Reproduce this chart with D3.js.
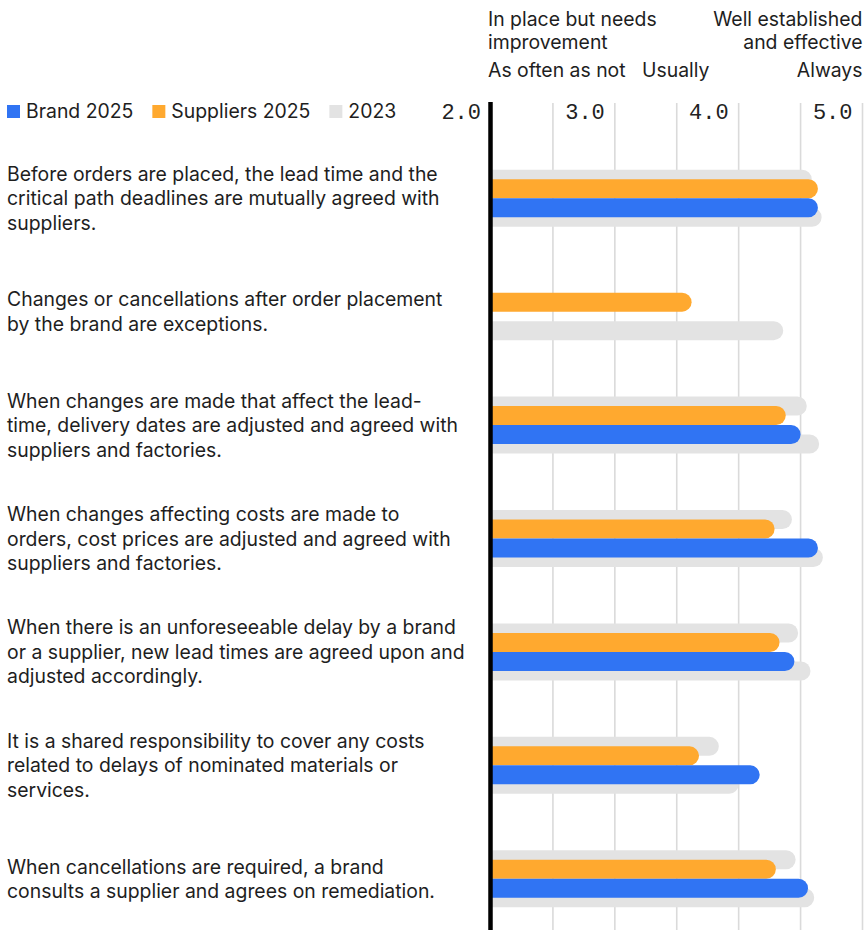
<!DOCTYPE html>
<html>
<head>
<meta charset="utf-8">
<script src="https://cdn.jsdelivr.net/npm/d3@7"></script>
<style>
  html, body { margin: 0; padding: 0; background: #fff; }
  svg { display: block; }
  .lbl { font-family: Inter, "Noto Sans", sans-serif; fill: #1e1e1e; }
  .tick-lbl { font-family: "Liberation Mono", "DejaVu Sans Mono", monospace; fill: #222; }
</style>
</head>
<body>
<svg id="chart" width="864" height="930"></svg>
<script>
// Survey statements (wrapped lines as displayed)
const statements = [
  ["Before orders are placed, the lead time and the", "critical path deadlines are mutually agreed with", "suppliers."],
  ["Changes or cancellations after order placement", "by the brand are exceptions."],
  ["When changes are made that affect the lead-", "time, delivery dates are adjusted and agreed with", "suppliers and factories."],
  ["When changes affecting costs are made to", "orders, cost prices are adjusted and agreed with", "suppliers and factories."],
  ["When there is an unforeseeable delay by a brand", "or a supplier, new lead times are agreed upon and", "adjusted accordingly."],
  ["It is a shared responsibility to cover any costs", "related to delays of nominated materials or", "services."],
  ["When cancellations are required, a brand", "consults a supplier and agrees on remediation."]
];

// Average scores (null = not asked)
const brand2025     = [4.64, null, 4.50, 4.64, 4.45, 4.17, 4.56];
const suppliers2025 = [4.64, 3.62, 4.38, 4.29, 4.33, 3.68, 4.30];
const suppliers2023 = [4.59, null, 4.55, 4.43, 4.48, 3.84, 4.46];
const brand2023     = [4.67, 4.36, 4.65, 4.68, 4.58, 4.00, 4.61];

const tickValues = [2.0, 3.0, 4.0, 5.0];
const gridValues = [2.5, 3.0, 3.5, 4.0, 4.5, 5.0];

const legendItems = [
  { name: "Brand 2025", color: "#3074f3" },
  { name: "Suppliers 2025", color: "#ffa92f" },
  { name: "2023", color: "#e3e3e3" }
];

const colors = { brand: "#3074f3", suppliers: "#ffa92f", past: "#e3e3e3" };

const svg = d3.select("#chart");
const fontSize = 19.4;

const x = d3.scaleLinear().domain([2.0, 5.0]).range([491, 862.5]);
const y = d3.scaleBand().domain(d3.range(statements.length)).range([141.5, 935.5]);
const rowCenter = i => y(i) + y.bandwidth() / 2;
const barH = 19;

// Gridlines
svg.append("g").selectAll("line").data(gridValues).join("line")
  .attr("x1", d => x(d)).attr("x2", d => x(d))
  .attr("y1", 103).attr("y2", 930)
  .attr("stroke", "#dadada").attr("stroke-width", 1.6);

// Tick labels: right-aligned just before each tick position
svg.append("g").selectAll("text").data(tickValues).join("text")
  .attr("class", "tick-lbl")
  .attr("x", d => x(d) - 10)
  .attr("y", 119)
  .attr("text-anchor", "end")
  .attr("font-size", 22)
  .text(d => d.toFixed(1));

// Bar with square start and rounded end
function barPath(v, cy) {
  const x0 = x(2.0), x1 = x(v), r = barH / 2;
  const t = cy - r, b = cy + r;
  return `M${x0},${t}H${x1 - r}A${r},${r} 0 0 1 ${x1},${cy}A${r},${r} 0 0 1 ${x1 - r},${b}H${x0}Z`;
}

const layers = [
  { data: suppliers2023, offset: -19, color: colors.past },
  { data: brand2023, offset: 19, color: colors.past },
  { data: suppliers2025, offset: -9.5, color: colors.suppliers },
  { data: brand2025, offset: 9.5, color: colors.brand }
];

layers.forEach(layer => {
  svg.append("g").selectAll("path")
    .data(layer.data.map((v, i) => ({ v, i })).filter(d => d.v != null))
    .join("path")
    .attr("d", d => barPath(d.v, rowCenter(d.i) + layer.offset))
    .attr("fill", layer.color);
});

// Baseline axis
svg.append("line")
  .attr("x1", x(2.0) - 0.5).attr("x2", x(2.0) - 0.5)
  .attr("y1", 102).attr("y2", 930)
  .attr("stroke", "#000").attr("stroke-width", 4.5);

// Statement labels
const lineH = 24.5;
statements.forEach((lines, i) => {
  const t = svg.append("text").attr("class", "lbl").attr("font-size", fontSize);
  const top = rowCenter(i) - (lines.length - 1) * lineH / 2;
  lines.forEach((ln, j) => {
    t.append("tspan").attr("x", 7).attr("y", top + j * lineH + 7).text(ln);
  });
});

// Legend
let lx = 7;
const legend = svg.append("g");
legendItems.forEach(item => {
  legend.append("rect").attr("x", lx).attr("y", 105).attr("width", 13).attr("height", 13).attr("fill", item.color);
  const tx = legend.append("text").attr("class", "lbl").attr("x", lx + 19).attr("y", 118)
    .attr("font-size", fontSize).text(item.name);
  lx += 19 + tx.node().getComputedTextLength() + 19;
});

// Scale descriptors
const header = svg.append("g").attr("class", "lbl").attr("font-size", fontSize);
header.append("text").attr("x", x(2.0) - 3).attr("y", 26).text("In place but needs");
header.append("text").attr("x", x(2.0) - 3).attr("y", 49).text("improvement");
header.append("text").attr("x", x(5.0)).attr("y", 26).attr("text-anchor", "end").text("Well established");
header.append("text").attr("x", x(5.0)).attr("y", 49).attr("text-anchor", "end").text("and effective");
header.append("text").attr("x", x(2.0) - 3).attr("y", 77).text("As often as not");
header.append("text").attr("x", x(3.22)).attr("y", 77).text("Usually");
header.append("text").attr("x", x(5.0)).attr("y", 77).attr("text-anchor", "end").text("Always");
</script>
</body>
</html>
